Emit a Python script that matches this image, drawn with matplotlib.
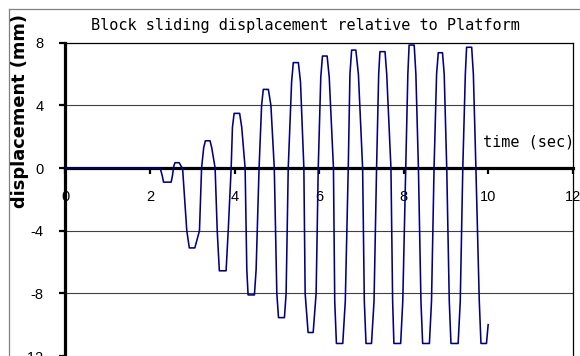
import matplotlib.pyplot as plt
from matplotlib.lines import Line2D

# block displacement relative to the platform, read at the turning points of the trace
time_s = [0.00, 2.24, 2.29, 2.32, 2.50, 2.53, 2.56, 2.59, 2.69, 2.74, 2.77,
          2.87, 2.93, 3.06, 3.17, 3.22,
          3.27, 3.31, 3.42, 3.46, 3.54,
          3.59, 3.64, 3.80, 3.85, 3.92,
          3.95, 3.99, 4.12, 4.17, 4.25,
          4.29, 4.32, 4.47, 4.51, 4.58,
          4.64, 4.68, 4.80, 4.86, 4.94,
          5.00, 5.04, 5.18, 5.22, 5.27,
          5.35, 5.39, 5.51, 5.56, 5.64,
          5.67, 5.74, 5.86, 5.93, 5.98,
          6.04, 6.08, 6.19, 6.24, 6.34,
          6.37, 6.41, 6.56, 6.62, 6.69,
          6.73, 6.77, 6.87, 6.93, 7.03,
          7.07, 7.11, 7.24, 7.30, 7.36,
          7.41, 7.44, 7.56, 7.60, 7.70,
          7.74, 7.77, 7.93, 7.98, 8.05,
          8.10, 8.13, 8.25, 8.29, 8.35,
          8.41, 8.45, 8.61, 8.66, 8.72,
          8.78, 8.82, 8.92, 8.96, 9.02,
          9.08, 9.12, 9.29, 9.34, 9.40,
          9.46, 9.49, 9.61, 9.65, 9.71,
          9.79, 9.83, 9.96, 10.00]
disp_mm = [0.0, 0.0, -0.5, -0.9, -0.9, -0.5, 0.1, 0.34, 0.34, 0.1, 0.0,
           -4.0, -5.1, -5.1, -4.0, 0.0,
           1.3, 1.74, 1.74, 1.3, 0.0,
           -4.0, -6.56, -6.56, -4.0, 0.0,
           2.6, 3.49, 3.49, 2.6, 0.0,
           -6.5, -8.1, -8.1, -6.5, 0.0,
           4.0, 5.02, 5.02, 4.0, 0.0,
           -8.0, -9.55, -9.55, -8.0, 0.0,
           5.5, 6.73, 6.73, 5.5, 0.0,
           -8.0, -10.5, -10.5, -8.0, 0.0,
           5.8, 7.15, 7.15, 5.8, 0.0,
           -8.5, -11.2, -11.2, -8.5, 0.0,
           6.0, 7.53, 7.53, 6.0, 0.0,
           -8.5, -11.2, -11.2, -8.5, 0.0,
           6.0, 7.43, 7.43, 6.0, 0.0,
           -8.5, -11.2, -11.2, -8.5, 0.0,
           6.0, 7.85, 7.85, 6.0, 0.0,
           -8.5, -11.2, -11.2, -8.5, 0.0,
           6.0, 7.36, 7.36, 6.0, 0.0,
           -8.5, -11.2, -11.2, -8.5, 0.0,
           6.0, 7.71, 7.71, 6.0, 0.0,
           -8.5, -11.2, -11.2, -10.0]

x_ticks = [0, 2, 4, 6, 8, 10, 12]
y_ticks = [8, 4, 0, -4, -8, -12]

plt.rcParams['font.family'] = ['Liberation Sans', 'DejaVu Sans']

fig = plt.figure(figsize=(5.8, 3.56), dpi=100)
ax = fig.add_axes([0.1129, 0.0, 0.8745, 0.880])

ax.plot(time_s, disp_mm, color='#000080', lw=1.15, zorder=4)

ax.set_xlim(0, 12)
ax.set_ylim(-12, 8)
ax.set_xticks(x_ticks)
ax.set_yticks(y_ticks)
ax.set_xticklabels([str(v) for v in x_ticks])
ax.set_yticklabels([str(v) for v in y_ticks])

# horizontal gridlines (the top one is the frame)
for g in [4, -4, -8]:
    ax.axhline(g, color='#404040', lw=0.8, zorder=1)

ax.spines['left'].set_position(('data', 0))
ax.spines['left'].set_linewidth(2.3)
ax.spines['bottom'].set_position(('data', 0))
ax.spines['bottom'].set_linewidth(2.3)
ax.spines['bottom'].set_zorder(3)
ax.spines['top'].set_linewidth(0.9)
ax.spines['right'].set_linewidth(0.9)

ax.tick_params(axis='x', direction='out', length=4, width=1.6, pad=12,
               labelsize=10.5, bottom=True)
ax.tick_params(axis='y', direction='out', length=4.5, width=1.6, pad=11.5,
               labelsize=10.5)

fig.text(91 / 580, 1 - 29.7 / 356,
         'Block sliding displacement relative to Platform',
         ha='left', va='baseline', fontsize=11, family='DejaVu Sans Mono')
fig.text(20 / 580, 1 - 111.5 / 356, 'displacement (mm)', rotation=90,
         ha='center', va='center', fontsize=12.8, fontweight='bold',
         family='DejaVu Sans')
ax.text(9.88, 1.36, 'time (sec)', ha='left', va='baseline', fontsize=11,
        family='DejaVu Sans Mono', zorder=5)

# grey outer chart frame
fig.add_artist(Line2D([9 / 580, 1.0], [1 - 9 / 356, 1 - 9 / 356],
                      color='#808080', lw=0.9, transform=fig.transFigure))
fig.add_artist(Line2D([9 / 580, 9 / 580], [0.0, 1 - 9 / 356],
                      color='#808080', lw=0.9, transform=fig.transFigure))

fig.savefig('out.png', dpi=100, facecolor='white')
